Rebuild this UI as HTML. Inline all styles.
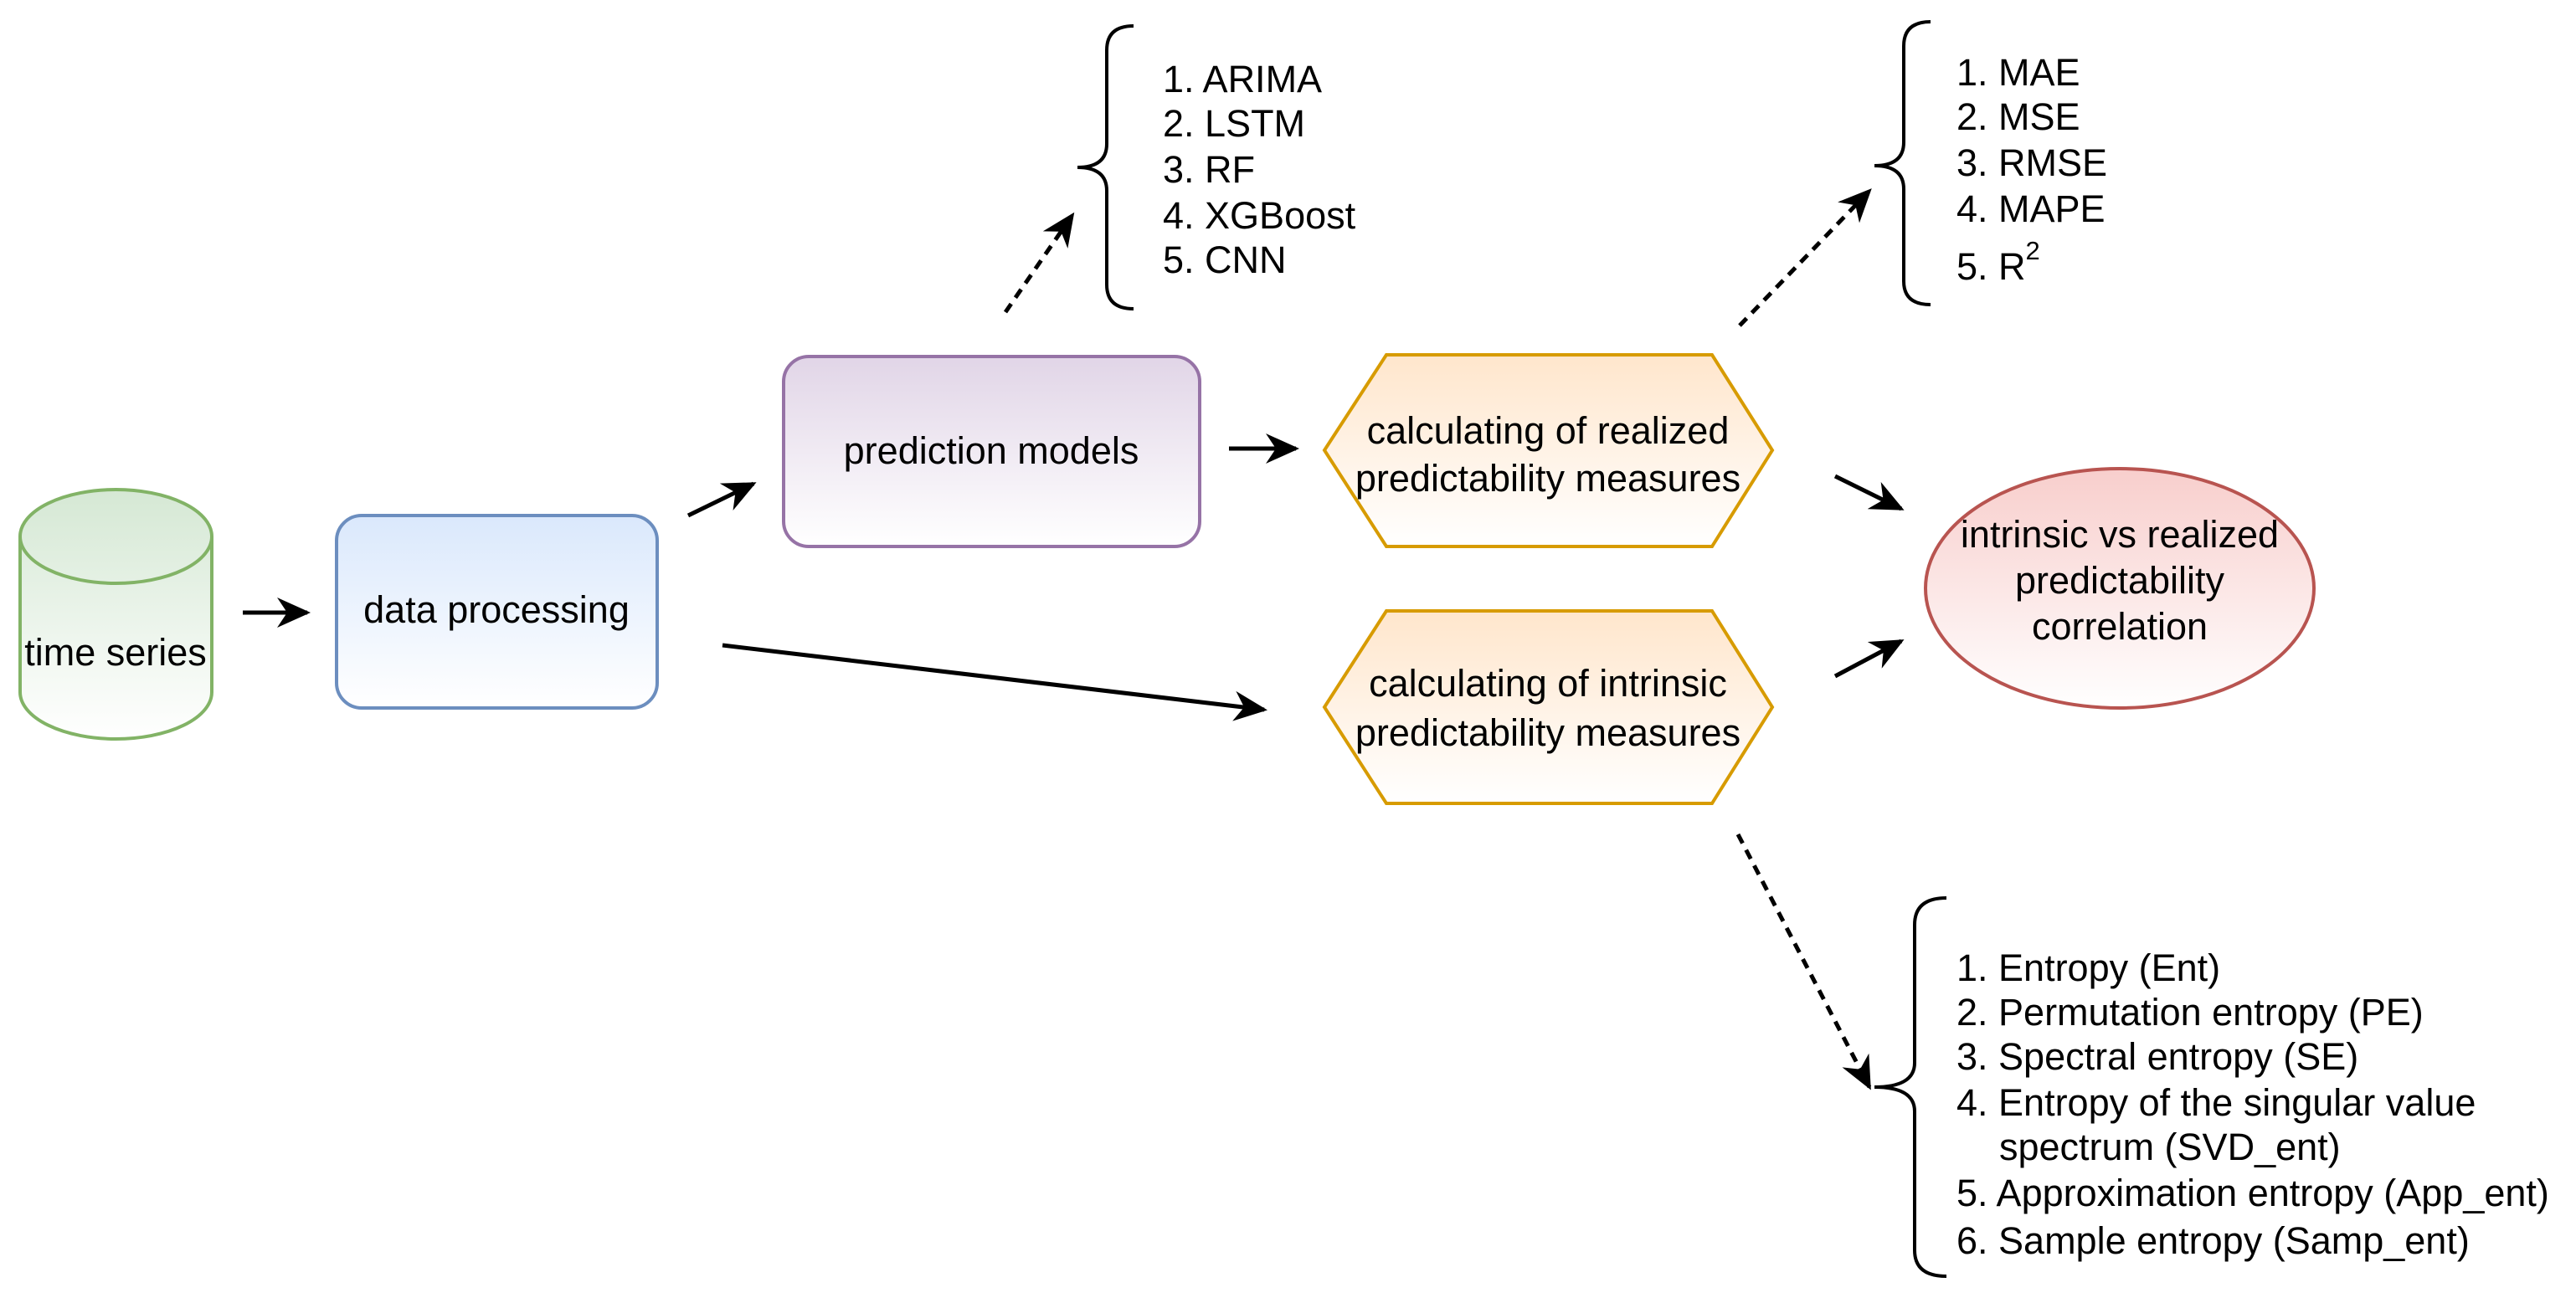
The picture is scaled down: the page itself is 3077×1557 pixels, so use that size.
<!DOCTYPE html>
<html><head><meta charset="utf-8"><style>html,body{margin:0;padding:0;background:#fff}svg{display:block}</style></head>
<body>
<svg width="3077" height="1557" viewBox="0 0 3077 1557" xmlns="http://www.w3.org/2000/svg" font-family="Liberation Sans, Arial, sans-serif" font-size="45">
<defs>
<linearGradient id="gG" x1="0" y1="0" x2="0" y2="1"><stop offset="0" stop-color="#d5e8d4"/><stop offset="1" stop-color="#fff"/></linearGradient>
<linearGradient id="gB" x1="0" y1="0" x2="0" y2="1"><stop offset="0" stop-color="#dae8fc"/><stop offset="1" stop-color="#fff"/></linearGradient>
<linearGradient id="gP" x1="0" y1="0" x2="0" y2="1"><stop offset="0" stop-color="#e1d5e7"/><stop offset="1" stop-color="#fff"/></linearGradient>
<linearGradient id="gO" x1="0" y1="0" x2="0" y2="1"><stop offset="0" stop-color="#ffe6cc"/><stop offset="1" stop-color="#fff"/></linearGradient>
<linearGradient id="gR" x1="0" y1="0" x2="0" y2="1"><stop offset="0" stop-color="#f8cecc"/><stop offset="1" stop-color="#fff"/></linearGradient>
<marker id="ar" markerWidth="40" markerHeight="36" refX="36" refY="18" orient="auto" markerUnits="userSpaceOnUse" viewBox="0 0 40 36"><path d="M0,0 L40,18 L0,36 L12,18 Z" fill="#000"/></marker>
</defs>
<style>.a{stroke:#000;stroke-width:5;fill:none}</style>

<path d="M24,641 A114.5,56 0 0 1 253,641 L253,827 A114.5,56 0 0 1 24,827 Z" fill="url(#gG)" stroke="#82b366" stroke-width="4"/>
<path d="M24,641 A114.5,56 0 0 0 253,641" fill="none" stroke="#82b366" stroke-width="4"/>
<text x="138" y="795" text-anchor="middle">time series</text>

<rect x="402" y="616" width="383" height="230" rx="30" fill="url(#gB)" stroke="#6c8ebf" stroke-width="4"/>
<text x="593" y="744" text-anchor="middle">data processing</text>

<rect x="936" y="426" width="497" height="227" rx="30" fill="url(#gP)" stroke="#9673a6" stroke-width="4"/>
<text x="1184" y="554" text-anchor="middle">prediction models</text>

<polygon points="1582,538 1656,424 2045,424 2117,538 2045,653 1656,653" fill="url(#gO)" stroke="#d79b00" stroke-width="4"/>
<text x="1849" y="530" text-anchor="middle">calculating of realized</text>
<text x="1849" y="587" text-anchor="middle">predictability measures</text>
<polygon points="1582,845 1656,730 2045,730 2117,845 2045,960 1656,960" fill="url(#gO)" stroke="#d79b00" stroke-width="4"/>
<text x="1849" y="832" text-anchor="middle">calculating of intrinsic</text>
<text x="1849" y="891" text-anchor="middle">predictability measures</text>

<ellipse cx="2532" cy="703" rx="232" ry="143" fill="url(#gR)" stroke="#b85450" stroke-width="4"/>
<text x="2532" y="654" text-anchor="middle">intrinsic vs realized</text>
<text x="2532" y="709" text-anchor="middle">predictability</text>
<text x="2532" y="764" text-anchor="middle">correlation</text>

<g class="a" marker-end="url(#ar)">
<line x1="290" y1="732" x2="367" y2="732"/>
<line x1="822" y1="616" x2="900" y2="578"/>
<line x1="1468" y1="536" x2="1548" y2="536"/>
<line x1="863" y1="771" x2="1510" y2="848"/>
<line x1="2192" y1="569" x2="2271" y2="608"/>
<line x1="2192" y1="808" x2="2271" y2="766"/>
<line x1="1201" y1="373" x2="1281" y2="257" stroke-dasharray="12,9"/>
<line x1="2078" y1="389" x2="2233" y2="228" stroke-dasharray="12,9"/>
<line x1="2076" y1="997" x2="2233" y2="1299" stroke-dasharray="12,9"/>
</g>

<g fill="none" stroke="#000" stroke-width="4">
<path d="M1354,31 Q1322,31 1322,60 L1322,172 Q1322,200 1287,200 Q1322,200 1322,228 L1322,340 Q1322,369 1354,369"/>
<path d="M2306,26 Q2274,26 2274,55 L2274,170 Q2274,198 2239,198 Q2274,198 2274,226 L2274,336 Q2274,364 2306,364"/>
<path d="M2325,1073 Q2287,1073 2287,1105 L2287,1270 Q2287,1299 2239,1299 Q2287,1299 2287,1328 L2287,1494 Q2287,1525 2325,1525"/>
</g>

<g>
<text x="1389" y="110">1. ARIMA</text>
<text x="1389" y="163">2. LSTM</text>
<text x="1389" y="218">3. RF</text>
<text x="1389" y="273">4. XGBoost</text>
<text x="1389" y="326">5. CNN</text>
</g>
<g>
<text x="2337" y="102">1. MAE</text>
<text x="2337" y="155">2. MSE</text>
<text x="2337" y="210">3. RMSE</text>
<text x="2337" y="265">4. MAPE</text>
<text x="2337" y="334">5. R<tspan font-size="31" dy="-24">2</tspan></text>
</g>
<g>
<text x="2337" y="1172">1. Entropy (Ent)</text>
<text x="2337" y="1225">2. Permutation entropy (PE)</text>
<text x="2337" y="1278">3. Spectral entropy (SE)</text>
<text x="2337" y="1333">4. Entropy of the singular value</text>
<text x="2388" y="1386">spectrum (SVD_ent)</text>
<text x="2337" y="1441">5. Approximation entropy (App_ent)</text>
<text x="2337" y="1498">6. Sample entropy (Samp_ent)</text>
</g>
</svg>
</body></html>
